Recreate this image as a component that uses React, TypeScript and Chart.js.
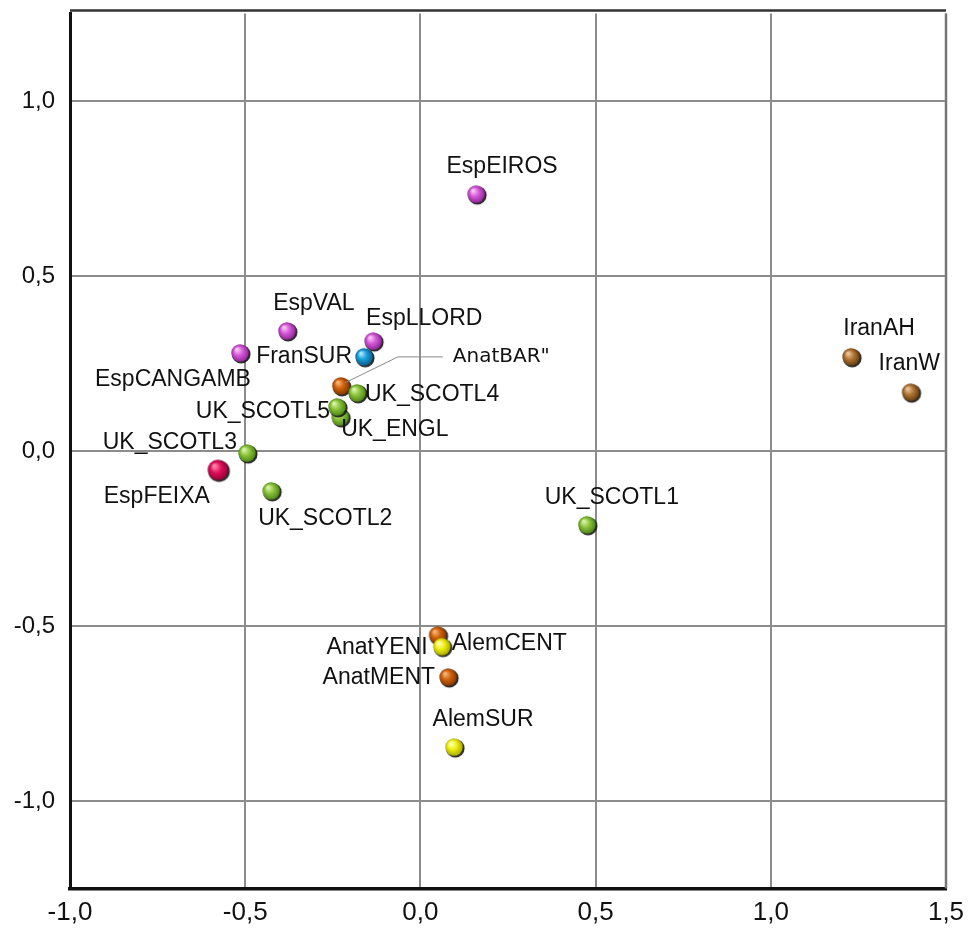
import React, { useEffect, useRef } from "react";
import { Chart, registerables } from "chart.js";

Chart.register(...registerables);

// ---------- data ----------
const names = [
  "EspEIROS", "EspVAL", "EspCANGAMB", "EspLLORD", "FranSUR",
  "AnatBAR\"", "UK_SCOTL4", "UK_ENGL", "UK_SCOTL5", "UK_SCOTL3",
  "EspFEIXA", "UK_SCOTL2", "UK_SCOTL1", "IranAH", "IranW",
  "AnatYENI", "AlemCENT", "AnatMENT", "AlemSUR",
];
const xValues = [
  0.159, -0.381, -0.515, -0.135, -0.161,
  -0.227, -0.181, -0.229, -0.238, -0.495,
  -0.578, -0.426, 0.475, 1.229, 1.399,
  0.049, 0.061, 0.079, 0.096,
];
const yValues = [
  0.734, 0.343, 0.280, 0.314, 0.269,
  0.186, 0.166, 0.097, 0.126, -0.006,
  -0.054, -0.114, -0.211, 0.269, 0.168,
  -0.526, -0.559, -0.646, -0.846,
];
const groups = [
  "esp", "esp", "esp", "esp", "fran",
  "anat", "uk", "uk", "uk", "uk",
  "feixa", "uk", "uk", "iran", "iran",
  "anat", "alem", "anat", "alem",
];
const xTicks = [-1.0, -0.5, 0.0, 0.5, 1.0, 1.5];
const yTicks = [-1.0, -0.5, 0.0, 0.5, 1.0];

// ---------- styles ----------
const groupColors: Record<string, [string, string, string]> = {
  esp: ["#f6c4f6", "#d65ad8", "#8e2496"],
  fran: ["#a8e4ff", "#1a9fd8", "#0a5d8c"],
  anat: ["#f7b478", "#d2640c", "#833600"],
  uk: ["#d8f2a8", "#8cc43c", "#4a8416"],
  feixa: ["#ff86ae", "#e0105c", "#930036"],
  iran: ["#ebc596", "#b07838", "#663c0e"],
  alem: ["#ffffc0", "#f0f010", "#a8a800"],
};
const groupRadius: Record<string, number> = { feixa: 10.5 };

// label placement relative to the point (pixels)
const labelPlacement: { dx: number; dy: number; align: CanvasTextAlign }[] = [
  { dx: 26, dy: -27, align: "center" }, // EspEIROS
  { dx: 27, dy: -27, align: "center" }, // EspVAL
  { dx: 11, dy: 27, align: "right" }, // EspCANGAMB
  { dx: -7, dy: -22, align: "left" }, // EspLLORD
  { dx: -12, dy: 0, align: "right" }, // FranSUR
  { dx: 112, dy: -29, align: "left" }, // AnatBAR"
  { dx: 8, dy: 2, align: "left" }, // UK_SCOTL4
  { dx: 1, dy: 13, align: "left" }, // UK_ENGL
  { dx: -7, dy: 5, align: "right" }, // UK_SCOTL5
  { dx: -10, dy: -10, align: "right" }, // UK_SCOTL3
  { dx: -8, dy: 27, align: "right" }, // EspFEIXA
  { dx: -13, dy: 28, align: "left" }, // UK_SCOTL2
  { dx: 25, dy: -27, align: "center" }, // UK_SCOTL1
  { dx: 28, dy: -28, align: "center" }, // IranAH
  { dx: -32, dy: -29, align: "left" }, // IranW
  { dx: -10, dy: 13, align: "right" }, // AnatYENI
  { dx: 10, dy: -3, align: "left" }, // AlemCENT
  { dx: -13, dy: 1, align: "right" }, // AnatMENT
  { dx: 29, dy: -27, align: "center" }, // AlemSUR
];

const LABEL_FONT = '23px "Liberation Sans", Arial, sans-serif';
const SPECIAL_FONT = '20px "DejaVu Sans", sans-serif';

function makeSphere(group: string): HTMLCanvasElement {
  const r = groupRadius[group] ?? 9;
  const size = Math.ceil(r * 2 + 6);
  const c = document.createElement("canvas");
  c.width = size;
  c.height = size;
  const ctx = c.getContext("2d")!;
  const cx = size / 2;
  const cy = size / 2;
  ctx.beginPath();
  ctx.arc(cx + 1.2, cy + 1.2, r + 0.3, 0, Math.PI * 2);
  ctx.fillStyle = "rgba(20,20,20,0.9)";
  ctx.fill();
  const [light, base, dark] = groupColors[group];
  const g = ctx.createRadialGradient(cx - r * 0.35, cy - r * 0.4, r * 0.1, cx, cy, r);
  g.addColorStop(0, light);
  g.addColorStop(0.45, base);
  g.addColorStop(1, dark);
  ctx.beginPath();
  ctx.arc(cx, cy, r - 0.3, 0, Math.PI * 2);
  ctx.fillStyle = g;
  ctx.fill();
  return c;
}

const fmt = (v: number) => v.toFixed(1).replace(".", ",");

export default function App() {
  const ref = useRef<HTMLCanvasElement | null>(null);

  useEffect(() => {
    if (!ref.current) return;
    const spheres: Record<string, HTMLCanvasElement> = {};
    Object.keys(groupColors).forEach((k) => (spheres[k] = makeSphere(k)));
    const pointStyles = groups.map((g) => spheres[g]);

    const framePlugin = {
      id: "frame",
      beforeDatasetsDraw(chart: any) {
        const { ctx, chartArea } = chart;
        ctx.save();
        ctx.strokeStyle = "#333";
        ctx.lineWidth = 2.5;
        ctx.beginPath();
        ctx.moveTo(chartArea.left, chartArea.top - 3);
        ctx.lineTo(chartArea.right, chartArea.top - 3);
        ctx.stroke();
        ctx.strokeStyle = "#777";
        ctx.lineWidth = 2.5;
        ctx.beginPath();
        ctx.moveTo(chartArea.right, chartArea.top);
        ctx.lineTo(chartArea.right, chartArea.bottom);
        ctx.stroke();
        ctx.restore();
      },
    };

    const labelPlugin = {
      id: "pointLabels",
      afterDatasetsDraw(chart: any) {
        const { ctx, chartArea } = chart;
        const meta = chart.getDatasetMeta(0);
        ctx.save();
        ctx.beginPath();
        ctx.rect(chartArea.left, chartArea.top, chartArea.right - chartArea.left, chartArea.bottom - chartArea.top);
        ctx.clip();
        names.forEach((name, i) => {
          const el = meta.data[i];
          if (!el) return;
          const p = labelPlacement[i];
          const special = name.startsWith("AnatBAR");
          if (special) {
            ctx.strokeStyle = "#8a8a8a";
            ctx.lineWidth = 1;
            ctx.beginPath();
            ctx.moveTo(el.x + 4, el.y - 3);
            ctx.lineTo(el.x + 57, el.y - 29);
            ctx.lineTo(el.x + 102, el.y - 29);
            ctx.stroke();
          }
          ctx.font = special ? SPECIAL_FONT : LABEL_FONT;
          ctx.fillStyle = "#111";
          ctx.textAlign = p.align;
          ctx.textBaseline = "middle";
          ctx.fillText(name, el.x + p.dx, el.y + p.dy);
        });
        ctx.restore();
      },
    };

    const chart = new Chart(ref.current, {
      type: "scatter",
      data: {
        datasets: [
          {
            label: "points",
            data: xValues.map((x, i) => ({ x, y: yValues[i] })),
            pointStyle: pointStyles as any,
            pointRadius: 9,
            pointHoverRadius: 9,
            backgroundColor: "transparent",
            borderColor: "transparent",
          },
        ],
      },
      options: {
        responsive: false,
        animation: false,
        events: [],
        layout: { padding: { top: 13.5, right: 32, left: 0, bottom: 0 } },
        plugins: { legend: { display: false }, tooltip: { enabled: false } },
        scales: {
          x: {
            type: "linear",
            min: -1,
            max: 1.5,
            afterBuildTicks: (s: any) => {
              s.ticks = xTicks.map((v) => ({ value: v }));
            },
            afterFit: (s: any) => {
              s.height = 43.5;
              s.paddingLeft = 0;
              s.paddingRight = 0;
            },
            ticks: {
              callback: (v: any) => fmt(Number(v)),
              font: { family: '"Liberation Sans Narrow", "Liberation Sans", Arial', size: 26 },
              color: "#111",
              padding: 9,
              maxRotation: 0,
            },
            grid: { color: "#8c8c8c", lineWidth: 2, drawTicks: false },
            border: { color: "#111", width: 3.5 },
          },
          y: {
            type: "linear",
            min: -1.25,
            max: 1.25,
            afterBuildTicks: (s: any) => {
              s.ticks = yTicks.map((v) => ({ value: v }));
            },
            afterFit: (s: any) => {
              s.width = 70;
              s.paddingTop = 0;
              s.paddingBottom = 0;
            },
            ticks: {
              callback: (v: any) => fmt(Number(v)),
              font: { family: '"Liberation Sans", Arial', size: 24 },
              color: "#111",
              padding: 15,
            },
            grid: { color: "#8c8c8c", lineWidth: 2, drawTicks: false },
            border: { color: "#111", width: 3 },
          },
        },
      },
      plugins: [framePlugin, labelPlugin],
    });
    return () => chart.destroy();
  }, []);

  return (
    <div style={{ position: "absolute", left: 0, top: 0, width: 978, height: 932, background: "#fff" }}>
      <canvas ref={ref} width={978} height={932} style={{ width: 978, height: 932, display: "block" }} />
    </div>
  );
}
